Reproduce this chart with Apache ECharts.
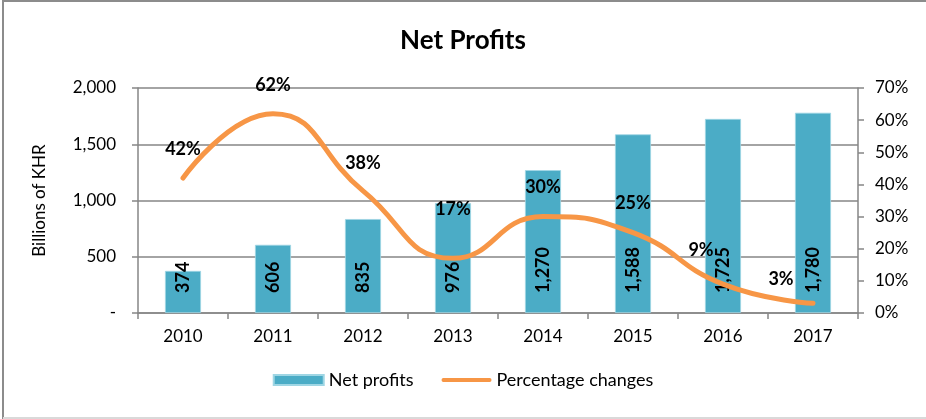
<!DOCTYPE html>
<html><head><meta charset="utf-8">
<script src="https://cdn.jsdelivr.net/npm/echarts@6/dist/echarts.min.js"></script>
<style>html,body{margin:0;padding:0;background:#fff}#c{width:926px;height:419px}</style>
</head><body><div id="c"></div>
<script>
const categories = ['2010','2011','2012','2013','2014','2015','2016','2017'];
const netProfits = [374, 606, 835, 976, 1270, 1588, 1725, 1780];
const pctChanges = [42, 62, 38, 17, 30, 25, 9, 3];
const leftTicks = [0, 500, 1000, 1500, 2000];
const rightTicks = [0, 10, 20, 30, 40, 50, 60, 70];
// label placement offsets (style only)
const pctLabelOffsets = [[0,-29],[0,-29],[0,-28],[0,-49],[0,-29],[0,-29],[-22,-34],[-32,-24]];

const FONT = 'Lato, "Liberation Sans", sans-serif';
const ORANGE = '#F79646';
const chart = echarts.init(document.getElementById('c'));
chart.setOption({
  animation: false,
  textStyle: { fontFamily: FONT, color: '#000' },
  graphic: [{
    type: 'polyline', silent: true,
    shape: { points: [[3,419],[3,1],[926,1]] },
    style: { stroke: '#8c8c8c', lineWidth: 2, fill: null }
  },{
    type: 'line', silent: true,
    shape: { x1: 3, y1: 418, x2: 926, y2: 418 },
    style: { stroke: '#d9d9d9', lineWidth: 2 }
  }],
  title: {
    text: 'Net Profits', left: 'center', top: 23,
    textStyle: { fontFamily: FONT, fontSize: 26, fontWeight: 'bold', color: '#000' }
  },
  legend: {
    bottom: 25, left: 'center',
    itemWidth: 50, itemHeight: 10, itemGap: 28,
    textStyle: { fontFamily: FONT, fontSize: 18, color: '#000' },
    data: [
      { name: 'Net profits', icon: 'rect' },
      { name: 'Percentage changes',
        icon: 'path://M2,0 L50,0 A2,2 0 0 1 50,4 L2,4 A2,2 0 0 1 2,0 Z',
        itemStyle: { color: ORANGE, opacity: 1 } }
    ]
  },
  grid: { left: 138, right: 68, top: 88, bottom: 106 },
  xAxis: {
    type: 'category', data: categories,
    axisLine: { lineStyle: { color: '#868686', width: 1.5 } },
    axisTick: { show: true, length: 6, alignWithLabel: false, lineStyle: { color: '#868686', width: 1.5 } },
    axisLabel: { fontSize: 17, color: '#000', margin: 15, fontFamily: FONT }
  },
  yAxis: [{
    type: 'value', min: 0, max: 2000, interval: 500,
    name: 'Billions of KHR', nameLocation: 'middle', nameGap: 90, nameRotate: 90,
    nameTextStyle: { fontSize: 17, color: '#000', fontFamily: FONT },
    axisLine: { show: true, lineStyle: { color: '#868686', width: 1.5 } },
    axisTick: { show: true, length: 6, lineStyle: { color: '#868686', width: 1.5 } },
    splitLine: { lineStyle: { color: '#868686', width: 1.5 } },
    axisLabel: {
      fontSize: 17, color: '#000', margin: 22, fontFamily: FONT,
      customValues: leftTicks,
      formatter: v => v === 0 ? '-' : v.toLocaleString('en-US')
    }
  },{
    type: 'value', min: 0, max: 70, interval: 10, position: 'right',
    axisLine: { show: true, lineStyle: { color: '#868686', width: 1.5 } },
    axisTick: { show: true, length: 6, lineStyle: { color: '#868686', width: 1.5 } },
    splitLine: { show: false },
    axisLabel: {
      fontSize: 17, color: '#000', margin: 17, fontFamily: FONT,
      customValues: rightTicks,
      formatter: v => v + '%'
    }
  }],
  series: [{
    name: 'Net profits', type: 'bar', yAxisIndex: 0,
    data: netProfits, barWidth: '40%',
    itemStyle: { color: '#4BACC6', borderColor: '#9fd6e4', borderWidth: 0.8 },
    label: {
      show: true, position: 'insideBottom', distance: 20, rotate: 90,
      align: 'left', verticalAlign: 'middle',
      fontSize: 18, fontWeight: 'bold', color: '#000', fontFamily: FONT,
      formatter: p => p.value.toLocaleString('en-US')
    },
    z: 2
  },{
    name: 'Percentage changes', type: 'line', yAxisIndex: 1,
    smooth: 0.5, symbol: 'circle', symbolSize: 1, showSymbol: true,
    lineStyle: { color: ORANGE, width: 5, cap: 'round' },
    itemStyle: { color: 'rgba(0,0,0,0)', borderWidth: 0 },
    data: pctChanges.map((v, i) => ({
      value: v,
      label: { offset: pctLabelOffsets[i] }
    })),
    label: {
      show: true, position: 'inside',
      fontSize: 18, fontWeight: 'bold', color: '#000', fontFamily: FONT,
      formatter: p => p.value + '%'
    },
    z: 3
  }]
});
</script>
</body></html>
